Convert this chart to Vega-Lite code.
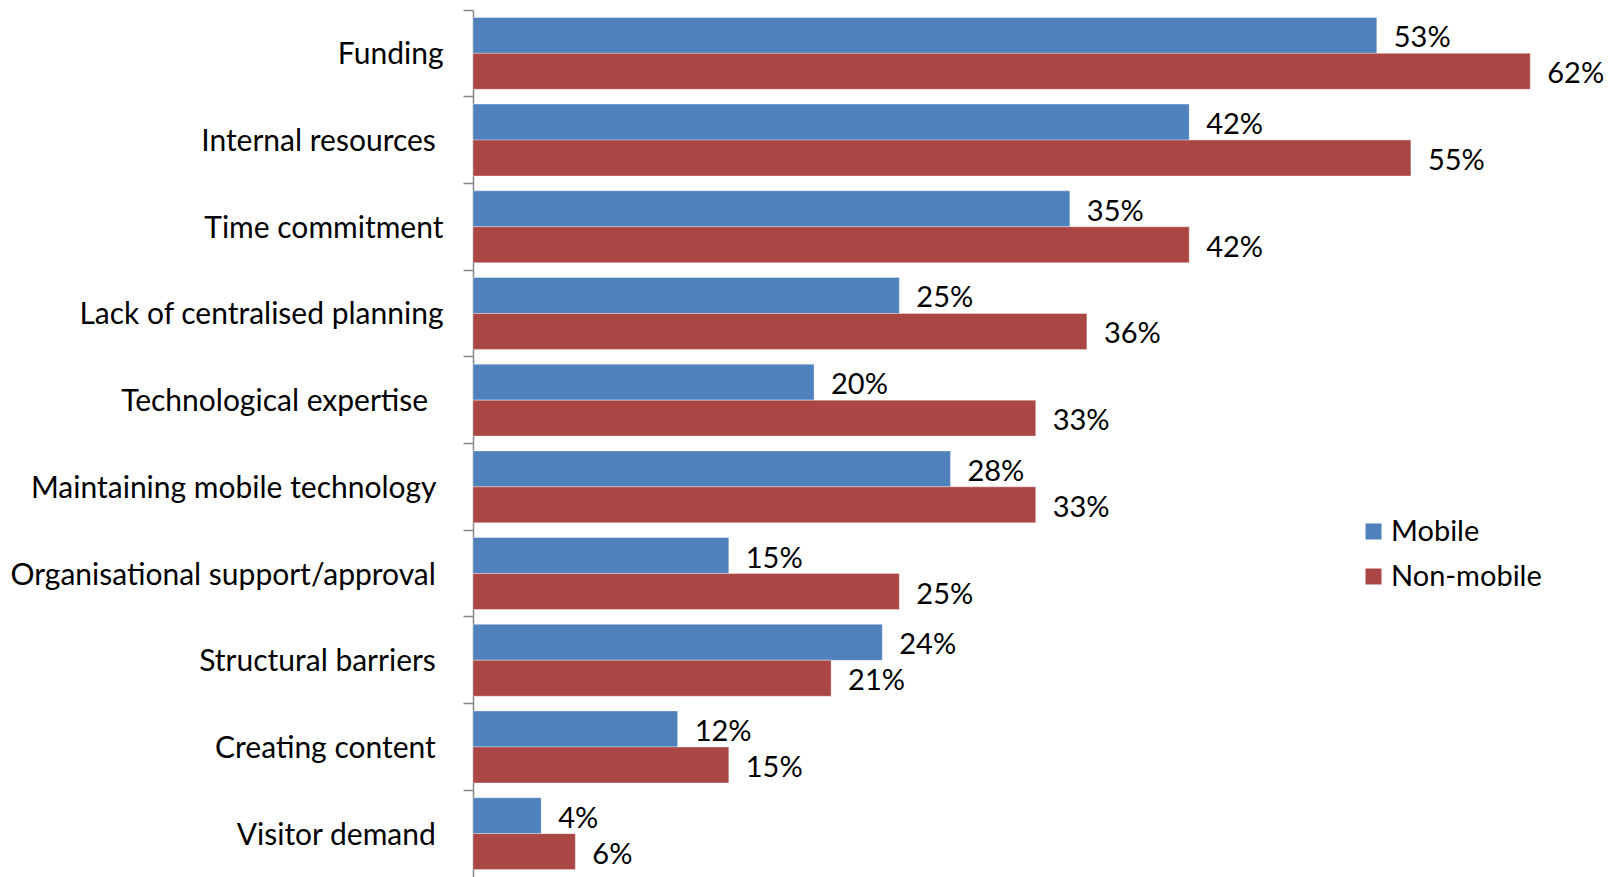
{
  "$schema": "https://vega.github.io/schema/vega-lite/v6.json",
  "autosize": {"type": "none"},
  "width": 1105,
  "height": 867,
  "padding": {"left": 473, "top": 10, "right": 40, "bottom": 0},
  "background": "white",
  "config": {
    "view": {"stroke": null},
    "font": "Lato",
    "text": {"font": "Lato"}
  },
  "data": {
    "values": [
      {"barrier": "Funding", "group": "Mobile", "share": 0.53},
      {"barrier": "Funding", "group": "Non-mobile", "share": 0.62},
      {"barrier": "Internal resources\u00a0\u200b", "group": "Mobile", "share": 0.42},
      {"barrier": "Internal resources\u00a0\u200b", "group": "Non-mobile", "share": 0.55},
      {"barrier": "Time commitment", "group": "Mobile", "share": 0.35},
      {"barrier": "Time commitment", "group": "Non-mobile", "share": 0.42},
      {"barrier": "Lack of centralised planning", "group": "Mobile", "share": 0.25},
      {"barrier": "Lack of centralised planning", "group": "Non-mobile", "share": 0.36},
      {"barrier": "Technological expertise\u00a0\u00a0\u200b", "group": "Mobile", "share": 0.20},
      {"barrier": "Technological expertise\u00a0\u00a0\u200b", "group": "Non-mobile", "share": 0.33},
      {"barrier": "Maintaining mobile technology\u00a0\u200b", "group": "Mobile", "share": 0.28},
      {"barrier": "Maintaining mobile technology\u00a0\u200b", "group": "Non-mobile", "share": 0.33},
      {"barrier": "Organisational support/approval\u00a0\u200b", "group": "Mobile", "share": 0.15},
      {"barrier": "Organisational support/approval\u00a0\u200b", "group": "Non-mobile", "share": 0.25},
      {"barrier": "Structural barriers\u00a0\u200b", "group": "Mobile", "share": 0.24},
      {"barrier": "Structural barriers\u00a0\u200b", "group": "Non-mobile", "share": 0.21},
      {"barrier": "Creating content\u00a0\u200b", "group": "Mobile", "share": 0.12},
      {"barrier": "Creating content\u00a0\u200b", "group": "Non-mobile", "share": 0.15},
      {"barrier": "Visitor demand\u00a0\u200b", "group": "Mobile", "share": 0.04},
      {"barrier": "Visitor demand\u00a0\u200b", "group": "Non-mobile", "share": 0.06}
    ]
  },
  "encoding": {
    "y": {
      "field": "barrier",
      "type": "nominal",
      "sort": null,
      "scale": {"paddingInner": 0, "paddingOuter": 0},
      "axis": {
        "title": null,
        "bandPosition": 0,
        "domainColor": "#868686",
        "domainWidth": 1.5,
        "tickColor": "#868686",
        "tickWidth": 1.5,
        "tickSize": 10,
        "labelPadding": 20,
        "labelFont": "Lato",
        "labelFontSize": 30,
        "labelColor": "#000000",
        "labelBound": false,
        "labelLimit": 0,
        "labelOverlap": false,
        "labelOffset": 2
      }
    },
    "yOffset": {
      "field": "group",
      "type": "nominal",
      "scale": {"paddingInner": 0, "paddingOuter": 0.206}
    },
    "x": {
      "field": "share",
      "type": "quantitative",
      "scale": {"domain": [0, 0.648], "nice": false},
      "axis": null
    }
  },
  "layer": [
    {
      "mark": {"type": "bar", "stroke": "#ffffff", "strokeOpacity": 0.35, "strokeWidth": 1},
      "encoding": {
        "color": {
          "field": "group",
          "type": "nominal",
          "scale": {"domain": ["Mobile", "Non-mobile"], "range": ["#4F81BD", "#AA4643"]},
          "legend": {
            "title": null,
            "orient": "none",
            "legendX": 886,
            "legendY": 507,
            "padding": 0,
            "symbolType": "square",
            "symbolSize": 256,
            "symbolStrokeWidth": 0,
            "labelFont": "Lato",
            "labelFontSize": 29,
            "labelColor": "#000000",
            "labelOffset": 3,
            "rowPadding": 15
          }
        }
      }
    },
    {
      "mark": {"type": "text", "align": "left", "baseline": "middle", "dx": 17, "dy": 3, "fontSize": 29, "font": "Lato", "color": "#000000"},
      "encoding": {
        "text": {"field": "share", "type": "quantitative", "format": ".0%"}
      }
    }
  ]
}
